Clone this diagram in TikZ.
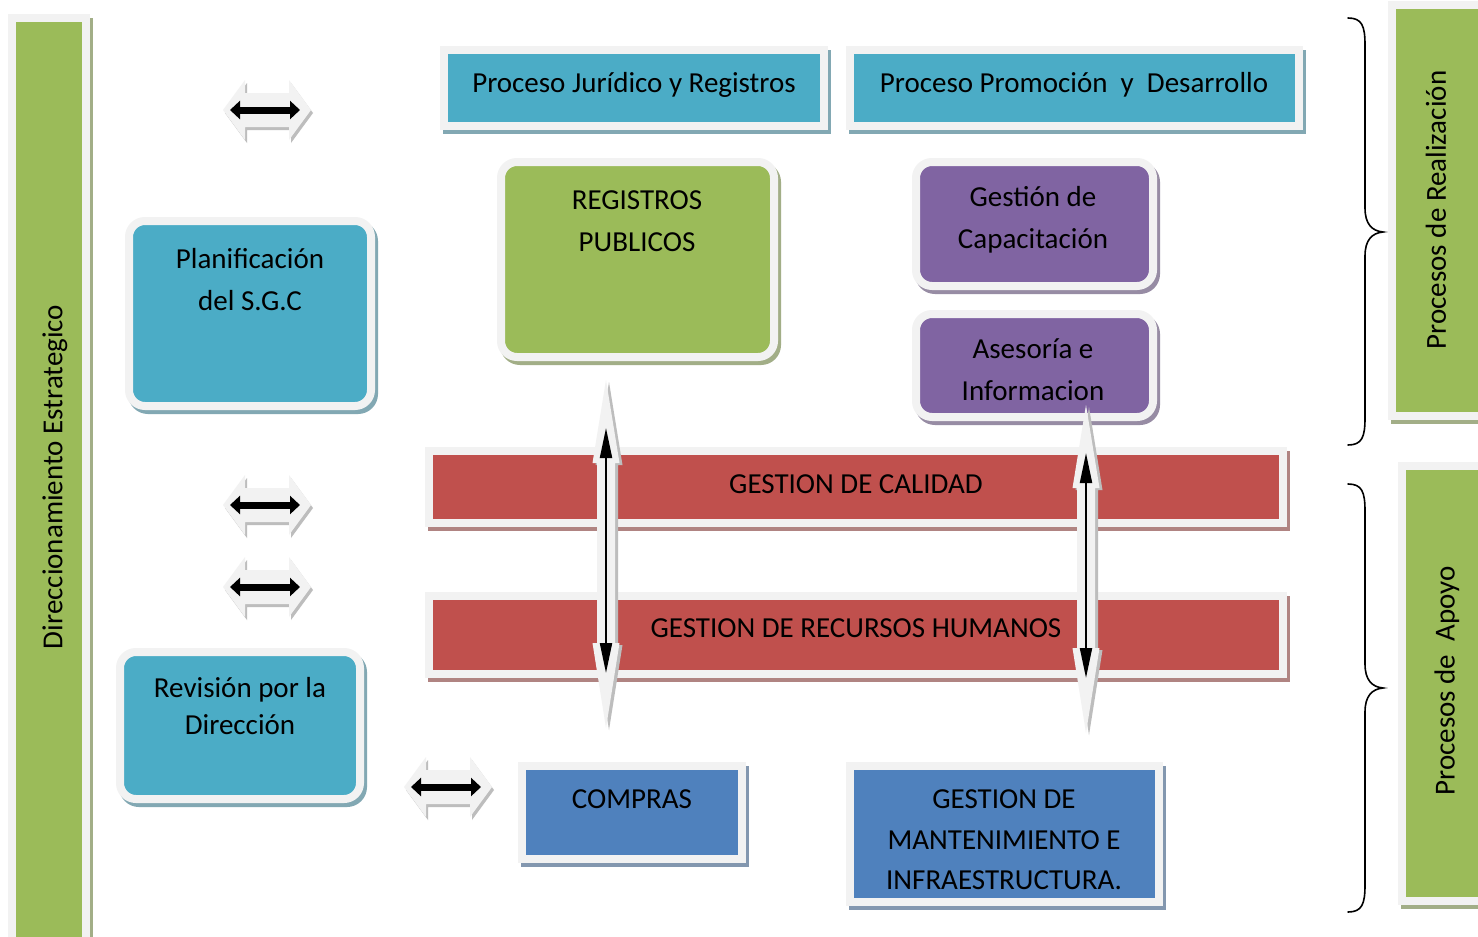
\documentclass[tikz,border=0pt]{standalone}
\usepackage{fontspec}
\setmainfont{Carlito}
\usetikzlibrary{arrows.meta}

\definecolor{framegray}{HTML}{F2F2F2}
\definecolor{shgray}{HTML}{A6A6A6}
\definecolor{arrowshade}{HTML}{BDBDBD}
\definecolor{accAqua}{HTML}{4BACC6}
\definecolor{accGreen}{HTML}{9BBB59}
\definecolor{accPurple}{HTML}{8064A2}
\definecolor{accRed}{HTML}{C0504D}
\definecolor{accBlue}{HTML}{4F81BD}

\tikzset{
  % framed box with a light border and a soft offset shadow
  box/.style={draw=framegray, line width=8pt, fill=#1, inner sep=0pt,
    preaction={fill=#1!40!shgray, draw=#1!40!shgray, line width=8pt,
      transform canvas={shift={(3pt,-4pt)}}}},
  roundbox/.style={box=#1, rounded corners=16pt},
  lbl/.style={font=\fontsize{29}{42}\selectfont, align=center, text=black, inner sep=0pt},
  % horizontal block double arrow
  hpoly/.style={insert path={(-44,0) -- (-22,-30) -- (-22,-17) -- (22,-17) -- (22,-30)
    -- (44,0) -- (22,30) -- (22,17) -- (-22,17) -- (-22,30) -- cycle}},
  hdouble/.pic={
    \fill[arrowshade, shift={(2,3)}, hpoly];
    \fill[framegray, hpoly];
    \draw[line width=7pt, {Triangle[length=10pt,width=18pt]}-{Triangle[length=10pt,width=18pt]}]
      (-37,0) -- (33,0);
  },
  % vertical block double arrow, #1 = half length
  vpoly/.style={insert path={(0,-#1) -- (13.5,-#1+83) -- (9,-#1+83) -- (9,#1-85)
    -- (13.5,#1-85) -- (0,#1) -- (-13.5,#1-85) -- (-9,#1-85) -- (-9,-#1+83)
    -- (-13.5,-#1+83) -- cycle}},
  vdouble/.pic={
    \fill[arrowshade, shift={(3,2)}, vpoly=#1];
    \fill[framegray, vpoly=#1];
    \draw[line width=2pt, {Triangle[length=30pt,width=12pt]}-{Triangle[length=30pt,width=12pt]}]
      (0,-#1+48) -- (0,#1-55);
  },
  bracepath/.style={line width=1.6pt, line cap=round},
}

\begin{document}
\begin{tikzpicture}[x=1pt,y=-1pt]
\fill[white] (0,0) rectangle (1478,937);
\useasboundingbox (0,0) rectangle (1478,937);

% side bars
\node[box=accGreen, minimum width=74pt, minimum height=923pt] (dir) at (49,479.5) {};
\node[box=accGreen, minimum width=90pt, minimum height=411pt] (real) at (1437,210.5) {};
\node[box=accGreen, minimum width=84pt, minimum height=435pt] (apoyo) at (1444,683.5) {};

% process headers
\node[box=accAqua, minimum width=380pt, minimum height=76pt] (jur) at (634,88) {};
\node[box=accAqua, minimum width=449pt, minimum height=76pt] (prom) at (1074.5,88) {};

% rounded process boxes
\node[roundbox=accGreen, minimum width=273pt, minimum height=195pt] (reg) at (637.5,259.5) {};
\node[roundbox=accAqua, minimum width=242pt, minimum height=185pt] (plan) at (250,313.5) {};
\node[roundbox=accPurple, minimum width=237pt, minimum height=124pt] (cap) at (1034.5,224) {};
\node[roundbox=accPurple, minimum width=237pt, minimum height=103pt] (ase) at (1034.5,365.5) {};
\node[roundbox=accAqua, minimum width=240pt, minimum height=147pt] (rev) at (240,725.5) {};

% support bars
\node[box=accRed, minimum width=854pt, minimum height=72pt] (cal) at (856,487) {};
\node[box=accRed, minimum width=854pt, minimum height=78pt] (rh) at (856,635) {};

% support boxes
\node[box=accBlue, minimum width=220pt, minimum height=93pt] (com) at (632,812.5) {};
\node[box=accBlue, minimum width=309pt, minimum height=136pt] (man) at (1004.5,834) {};

% labels
\node[lbl, rotate=90] (tdir) at (55,477) {Direccionamiento Estrategico};
\node[lbl, rotate=90] (treal) at (1436,210) {Procesos de Realización};
\node[lbl, rotate=90] (tapoyo) at (1447,681) {Procesos de\ \ Apoyo};
\node[lbl] (tjur) at (634,85) {Proceso Jurídico y Registros};
\node[lbl] (tprom) at (1074,85) {Proceso Promoción\ \ y\ \ Desarrollo};
\node[lbl] (treg) at (637,221) {REGISTROS\\PUBLICOS};
\node[lbl] (tplan) at (250,280) {Planificación\\del S.G.C};
\node[lbl] (tcap) at (1033,220) {Gestión de\\Capacitación};
\node[lbl] (tase) at (1033,370) {Asesoría e\\Informacion};
\node[lbl] (tcal) at (856,484) {GESTION DE CALIDAD};
\node[lbl] (trh) at (856,628) {GESTION DE RECURSOS HUMANOS};
\node[lbl, font=\fontsize{29}{37}\selectfont] (trev) at (240,706.5) {Revisión por la\\Dirección};
\node[lbl] (tcom) at (632,799) {COMPRAS};
\node[lbl, font=\fontsize{29}{40.5}\selectfont] (tman) at (1004,840)
  {GESTION DE\\MANTENIMIENTO E\\INFRAESTRUCTURA.};

% block double arrows
\pic at (267,110) {hdouble};
\pic at (267,505) {hdouble};
\pic at (267,587) {hdouble};
\pic at (448,787) {hdouble};
\pic at (606,554) {vdouble=174};
\pic at (1086,569) {vdouble=164};

% braces
\draw[bracepath] (1348,18) .. controls (1362,18) and (1365,26) .. (1365,45)
  -- (1365,208) .. controls (1365,224) and (1372,231) .. (1383,232)
  .. controls (1372,233) and (1365,240) .. (1365,256)
  -- (1365,418) .. controls (1365,437) and (1362,445) .. (1348,445);
\draw[bracepath] (1348,484) .. controls (1362,484) and (1365,492) .. (1365,511)
  -- (1365,664) .. controls (1365,680) and (1372,687) .. (1383,688)
  .. controls (1372,689) and (1365,696) .. (1365,712)
  -- (1365,885) .. controls (1365,904) and (1362,912) .. (1348,912);
\end{tikzpicture}
\end{document}
